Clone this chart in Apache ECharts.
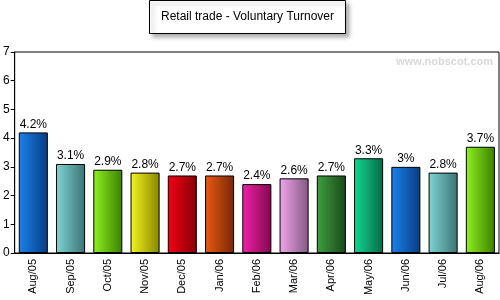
<!DOCTYPE html>
<html>
<head>
<meta charset="utf-8">
<script src="https://cdn.jsdelivr.net/npm/echarts@6/dist/echarts.min.js"></script>
<style>
  html, body { margin: 0; padding: 0; background: #fff; }
  #chart { width: 500px; height: 300px; }
</style>
</head>
<body>
<div id="chart"></div>
<script>
var months = ['Aug/05', 'Sep/05', 'Oct/05', 'Nov/05', 'Dec/05', 'Jan/06', 'Feb/06',
  'Mar/06', 'Apr/06', 'May/06', 'Jun/06', 'Jul/06', 'Aug/06']
var turnover = [4.2, 3.1, 2.9, 2.8, 2.7, 2.7, 2.4, 2.6, 2.7, 3.3, 3, 2.8, 3.7]
// light -> dark pairs for each bar
var barColors = [
  ['#1a82ee', '#083c80'],
  ['#80d4d4', '#3a7474'],
  ['#90f020', '#3a8000'],
  ['#f4f420', '#868600'],
  ['#f40010', '#860008'],
  ['#ea5a12', '#762808'],
  ['#f020a8', '#84084e'],
  ['#f0a4ec', '#845884'],
  ['#3e9e3e', '#184a18'],
  ['#10d894', '#086844'],
  ['#1a82ee', '#083c80'],
  ['#80d4d4', '#3a7474'],
  ['#90f020', '#3a8000']
]

var chartDom = echarts.init(document.getElementById('chart'))

var option = {
  backgroundColor: '#fff',
  animation: false,
  title: {
    text: 'Retail trade - Voluntary Turnover',
    left: 149,
    top: 0,
    padding: [11, 12],
    borderColor: '#000',
    borderWidth: 1,
    backgroundColor: '#fff',
    shadowColor: 'rgba(0,0,0,0.3)',
    shadowBlur: 4,
    shadowOffsetX: 3,
    shadowOffsetY: 3,
    textStyle: {
      fontFamily: 'Arial, Liberation Sans, sans-serif',
      fontSize: 12,
      fontWeight: 'normal',
      color: '#000'
    }
  },
  graphic: [{
    type: 'text',
    right: 7,
    top: 56,
    style: {
      text: 'www.nobscot.com',
      fill: '#d8d8d8',
      font: 'bold 11px Arial, Liberation Sans, sans-serif'
    }
  }],
  grid: {
    left: 14,
    right: 1,
    top: 52,
    bottom: 47,
    show: true,
    borderColor: '#000',
    borderWidth: 1,
    backgroundColor: '#fff'
  },
  xAxis: {
    type: 'category',
    data: months,
    axisLine: { lineStyle: { color: '#000' } },
    axisTick: { alignWithLabel: true, length: 4, lineStyle: { color: '#000' } },
    axisLabel: {
      rotate: 90,
      margin: 6,
      color: '#000',
      fontSize: 11,
      fontFamily: 'Arial, Liberation Sans, sans-serif'
    }
  },
  yAxis: {
    type: 'value',
    min: 0,
    max: 7,
    interval: 1,
    splitLine: { show: false },
    axisLine: { show: true, lineStyle: { color: '#000' } },
    axisTick: { show: true, length: 4, lineStyle: { color: '#000' } },
    axisLabel: {
      margin: 5,
      color: '#000',
      fontSize: 12,
      fontFamily: 'Arial, Liberation Sans, sans-serif'
    }
  },
  series: [{
    type: 'bar',
    barCategoryGap: '22%',
    data: turnover.map(function(v, i) {
      return {
        value: v,
        itemStyle: {
          color: new echarts.graphic.LinearGradient(0, 0, 1, 0, [
            { offset: 0, color: barColors[i][0] },
            { offset: 1, color: barColors[i][1] }
          ]),
          borderColor: '#000',
          borderWidth: 1
        }
      }
    }),
    label: {
      show: true,
      position: 'top',
      distance: 2,
      formatter: '{c}%',
      color: '#000',
      fontSize: 12,
      fontFamily: 'Arial, Liberation Sans, sans-serif'
    }
  }]
}
chartDom.setOption(option)
</script>
</body>
</html>
